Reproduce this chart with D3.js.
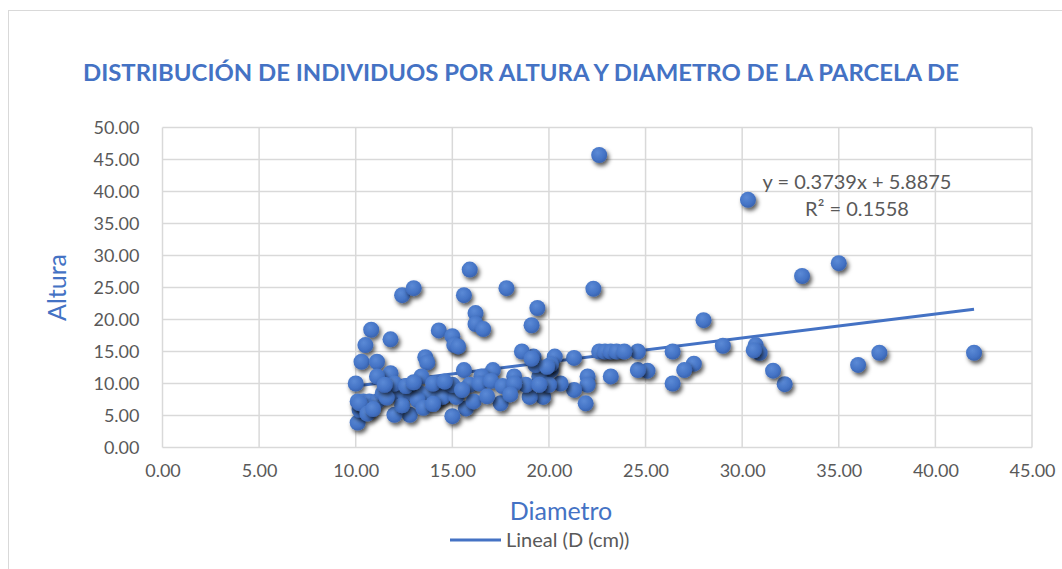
<!DOCTYPE html>
<html>
<head>
<meta charset="utf-8">
<script src="https://cdn.jsdelivr.net/npm/d3@7"></script>
<style>
  body { margin: 0; background: #fff; }
  svg { display: block; font-family: Lato, "Open Sans", sans-serif; }
</style>
</head>
<body>
<svg id="chart"></svg>
<script>
// values: Diametro (cm) and Altura (m)
const diametro = [
  22.6, 30.3, 33.1, 35.0, 42.0, 37.1, 36.0, 32.2, 31.6, 30.7, 30.9, 30.6, 29.0, 28.0,
  26.4, 27.5, 27.0, 26.4, 25.1, 24.6, 24.6, 22.3, 19.4, 19.1, 22.6, 22.9, 23.2, 23.5,
  23.9, 21.3, 20.3, 19.2, 23.2, 22.0, 22.0, 21.3, 21.9, 20.6, 20.1, 19.5, 19.7, 19.0,
  20.1, 20.0, 19.3, 19.9, 12.4, 13.0, 15.6, 17.8, 15.9, 16.2, 16.2, 16.6, 10.8, 11.8,
  10.5, 14.3, 15.0, 15.1, 15.3, 10.3, 11.1, 13.6, 13.7, 10.0, 11.8, 11.1, 13.4, 15.6,
  17.1, 18.6, 19.1, 17.5, 15.7, 15.0, 12.8, 12.0, 10.1, 10.2, 10.1, 10.4, 10.7, 11.1,
  10.6, 10.2, 11.4, 11.9, 12.5, 12.9, 13.3, 13.8, 14.4, 14.7, 12.4, 13.2, 14.2, 14.5,
  15.2, 18.2, 16.5, 15.9, 15.0, 18.8, 19.5, 12.0, 12.6, 13.0, 14.0, 14.6, 16.4, 17.0,
  17.6, 18.2, 13.5, 11.6, 14.0, 16.1, 16.8, 18.0, 15.5, 11.5, 10.6, 10.9
];
const altura = [
  45.7, 38.7, 26.8, 28.8, 14.8, 14.8, 12.9, 9.9, 12.0, 16.0, 14.8, 15.2, 15.9, 19.9,
  15.0, 13.1, 12.1, 10.0, 12.0, 12.1, 15.0, 24.8, 21.8, 19.1, 15.0, 15.0, 15.0, 15.0,
  15.0, 14.0, 14.2, 14.2, 11.1, 11.1, 9.8, 9.0, 6.9, 10.0, 12.1, 11.1, 7.9, 7.9,
  13.0, 9.8, 12.9, 12.6, 23.8, 24.9, 23.8, 24.9, 27.8, 21.0, 19.3, 18.5, 18.4, 16.9,
  16.0, 18.3, 17.4, 16.0, 15.8, 13.4, 13.4, 14.1, 13.3, 10.0, 11.6, 11.1, 11.1, 12.1,
  12.1, 15.0, 13.9, 6.9, 6.1, 4.9, 5.1, 5.1, 3.9, 5.9, 7.2, 7.2, 7.2, 7.2,
  6.4, 6.9, 8.5, 8.5, 8.5, 8.5, 8.5, 8.5, 8.5, 8.5, 6.6, 7.4, 7.4, 7.9,
  7.9, 11.1, 11.1, 9.8, 9.8, 9.8, 9.8, 10.0, 9.6, 10.2, 10.0, 10.3, 10.0, 10.4,
  9.6, 10.0, 6.2, 7.8, 6.8, 7.2, 8.0, 8.3, 9.0, 9.8, 5.3, 6.0
];
const xTicks = [0, 5, 10, 15, 20, 25, 30, 35, 40, 45];
const yTicks = [0, 5, 10, 15, 20, 25, 30, 35, 40, 45, 50];
const slope = 0.3739;
const intercept = 5.8875;
const rSquared = 0.1558;

const titleText = "DISTRIBUCIÓN DE INDIVIDUOS POR ALTURA Y DIAMETRO DE LA PARCELA DE";
const blue = "#4472C4";
const gray = "#595959";

const width = 1062, height = 569;
const plot = { left: 162.5, right: 1032, top: 127.5, bottom: 447.5 };

const points = diametro.map((d, i) => ({ d: d, h: altura[i] }));

let svg = d3.select("#chart")
  .attr("width", width)
  .attr("height", height);

// outer chart frame
svg.append("rect")
  .attr("x", 8.5).attr("y", 10.5)
  .attr("width", width).attr("height", height)
  .attr("fill", "none")
  .attr("stroke", "#d9d9d9");

let defs = svg.append("defs");
let grad = defs.append("radialGradient")
  .attr("id", "dot")
  .attr("cx", "40%").attr("cy", "35%").attr("r", "65%");
grad.append("stop").attr("offset", "0%").attr("stop-color", "#5b8ad6");
grad.append("stop").attr("offset", "70%").attr("stop-color", "#4473c5");
grad.append("stop").attr("offset", "100%").attr("stop-color", "#3a64b0");

let shadow = defs.append("filter")
  .attr("id", "shadow")
  .attr("x", "-50%").attr("y", "-50%").attr("width", "200%").attr("height", "200%");
shadow.append("feDropShadow")
  .attr("dx", 2).attr("dy", 3).attr("stdDeviation", 2)
  .attr("flood-color", "#000").attr("flood-opacity", 0.65);

let x = d3.scaleLinear().domain([0, 45]).range([plot.left, plot.right]);
let y = d3.scaleLinear().domain([0, 50]).range([plot.bottom, plot.top]);

// gridlines
svg.append("g")
  .selectAll("line")
  .data(yTicks)
  .enter()
  .append("line")
    .attr("x1", plot.left).attr("x2", plot.right)
    .attr("y1", d => y(d)).attr("y2", d => y(d))
    .attr("stroke", "#d9d9d9").attr("stroke-width", 1.5);

svg.append("g")
  .selectAll("line")
  .data(xTicks)
  .enter()
  .append("line")
    .attr("x1", d => x(d)).attr("x2", d => x(d))
    .attr("y1", plot.top).attr("y2", plot.bottom)
    .attr("stroke", "#d9d9d9").attr("stroke-width", 1.5);

// axes, labels only
let yAxis = d3.axisLeft(y).tickValues(yTicks).tickFormat(d3.format(".2f")).tickSize(0).tickPadding(23);
let xAxis = d3.axisBottom(x).tickValues(xTicks).tickFormat(d3.format(".2f")).tickSize(0).tickPadding(17);

svg.append("g")
    .attr("transform", `translate(${plot.left}, 0)`)
  .call(yAxis)
  .call(g => g.select(".domain").remove())
  .selectAll("text")
    .style("font-family", "Lato, sans-serif")
    .style("font-size", "18px")
    .attr("fill", gray);

svg.append("g")
    .attr("transform", `translate(0, ${plot.bottom})`)
  .call(xAxis)
  .call(g => g.select(".domain").remove())
  .selectAll("text")
    .style("font-family", "Lato, sans-serif")
    .style("font-size", "18px")
    .attr("fill", gray);

// trendline
let dExt = d3.extent(diametro);
svg.append("line")
  .attr("x1", x(dExt[0])).attr("y1", y(slope * dExt[0] + intercept))
  .attr("x2", x(dExt[1])).attr("y2", y(slope * dExt[1] + intercept))
  .attr("stroke", blue).attr("stroke-width", 3);

// markers
svg.append("g")
  .selectAll("circle")
  .data(points)
  .enter()
  .append("circle")
    .attr("cx", p => x(p.d))
    .attr("cy", p => y(p.h))
    .attr("r", 8)
    .attr("fill", "url(#dot)")
    .attr("filter", "url(#shadow)");

// equation label
svg.append("text")
  .attr("x", 857).attr("y", 189)
  .attr("text-anchor", "middle")
  .attr("fill", gray)
  .style("font-size", "20px")
  .text(`y = ${slope}x + ${intercept}`);
svg.append("text")
  .attr("x", 857).attr("y", 216)
  .attr("text-anchor", "middle")
  .attr("fill", gray)
  .style("font-size", "20px")
  .text(`R² = ${rSquared}`);

// title
svg.append("text")
  .attr("x", 83).attr("y", 81)
  .attr("fill", blue)
  .attr("textLength", 876)
  .attr("lengthAdjust", "spacingAndGlyphs")
  .style("font-size", "22px")
  .style("font-weight", "bold")
  .text(titleText);

// axis titles
svg.append("text")
  .attr("transform", "rotate(-90)")
  .attr("x", -(plot.top + plot.bottom) / 2)
  .attr("y", 66)
  .attr("text-anchor", "middle")
  .attr("fill", blue)
  .style("font-size", "25px")
  .text("Altura");

svg.append("text")
  .attr("x", 561).attr("y", 520)
  .attr("text-anchor", "middle")
  .attr("fill", blue)
  .style("font-size", "25px")
  .text("Diametro");

// legend
svg.append("line")
  .attr("x1", 450).attr("x2", 501)
  .attr("y1", 540).attr("y2", 540)
  .attr("stroke", blue).attr("stroke-width", 3);
svg.append("text")
  .attr("x", 506).attr("y", 547)
  .attr("fill", gray)
  .style("font-size", "20px")
  .text("Lineal (D (cm))");
</script>
</body>
</html>
